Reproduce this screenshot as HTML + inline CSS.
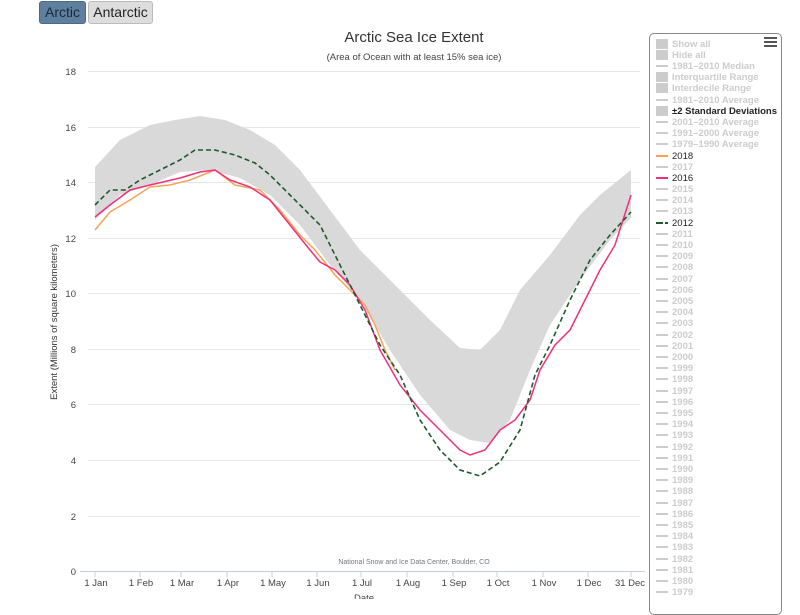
<!DOCTYPE html>
<html><head><meta charset="utf-8"><style>
body{margin:0;width:800px;height:599px;overflow:hidden;background:#fff;font-family:"Liberation Sans",sans-serif;position:relative}
.btn{position:absolute;top:1px;height:21px;border-radius:3px;font-size:14px;line-height:21px;text-align:center}
#leg{position:absolute;left:649px;top:33px;width:131px;height:580px;border:1px solid #888;border-radius:5px;background:#fff;font-size:9.5px;font-weight:bold;color:#ccc}
.li{position:absolute;left:6px;height:11px;line-height:11px;white-space:nowrap}
.sw{display:inline-block;width:12px;height:2px;background:#ccc;vertical-align:middle;margin-right:4px}
.sq{display:inline-block;width:12px;height:10px;background:#ccc;vertical-align:middle;margin-right:4px}
</style></head><body>
<div class="btn" style="left:39px;width:45px;background:#5f7f9f;color:#1a2a3a;border:1px solid #4a6a8a">Arctic</div>
<div class="btn" style="left:88px;width:63px;background:#ddd;color:#222;border:1px solid #bbb">Antarctic</div>
<svg width="800" height="599" style="position:absolute;left:0;top:0" font-family="Liberation Sans, sans-serif">
<text x="414" y="42" font-size="15" text-anchor="middle" fill="#333">Arctic Sea Ice Extent</text>
<text x="414" y="60" font-size="9.5" text-anchor="middle" fill="#444">(Area of Ocean with at least 15% sea ice)</text>
<g stroke="#e6e6e6" stroke-width="1">
<line x1="88" x2="640" y1="71.5" y2="71.5"/><line x1="88" x2="640" y1="127.5" y2="127.5"/><line x1="88" x2="640" y1="182.5" y2="182.5"/><line x1="88" x2="640" y1="238.5" y2="238.5"/><line x1="88" x2="640" y1="293.5" y2="293.5"/><line x1="88" x2="640" y1="349.5" y2="349.5"/><line x1="88" x2="640" y1="404.5" y2="404.5"/><line x1="88" x2="640" y1="460.5" y2="460.5"/><line x1="88" x2="640" y1="516.5" y2="516.5"/>
</g>
<g font-size="9.5" fill="#444" text-anchor="end">
<text x="76" y="75">18</text><text x="76" y="131">16</text><text x="76" y="186">14</text><text x="76" y="242">12</text><text x="76" y="297">10</text><text x="76" y="353">8</text><text x="76" y="408">6</text><text x="76" y="464">4</text><text x="76" y="520">2</text><text x="76" y="575">0</text>
</g>
<text transform="translate(57,322) rotate(-90)" font-size="9.5" fill="#333" text-anchor="middle">Extent (Millions of square kilometers)</text>
<path fill="#d9d9d9" d="M95,167 L120,140 L150,125 L175,120 L200,116 L225,120 L250,130 L275,145 L300,170 L330,210 L360,250 L400,290 L430,320 L460,348 L480,350 L500,330 L520,290 L550,255 L580,215 L600,195 L631,170 L631,218 L610,240 L580,280 L550,325 L530,370 L510,420 L490,443 L470,440 L450,430 L420,395 L390,350 L360,300 L330,265 L300,225 L270,195 L240,178 L210,170 L180,172 L150,185 L120,195 L95,220Z"/>
<path fill="none" stroke="#f4a45a" stroke-width="1.5" d="M95,230 L110,212 L130,200 L150,187 L170,185 L190,180 L215,170 L235,185 L260,190 L280,210 L300,235 L315,250 L335,275 L350,290 L365,305 L375,325 L385,350 L395,370"/>
<path fill="none" stroke="#f0307a" stroke-width="1.5" d="M95,217 L110,205 L130,190 L150,185 L180,178 L200,172 L215,170 L230,180 L250,187 L270,200 L290,225 L310,250 L320,262 L335,270 L350,285 L365,310 L380,350 L400,385 L420,410 L440,430 L460,450 L470,455 L485,450 L500,430 L515,420 L530,400 L540,370 L555,345 L570,330 L585,300 L600,270 L615,245 L631,195"/>
<path fill="none" stroke="#1d5a2e" stroke-width="1.6" stroke-dasharray="5,3" d="M95,205 L110,190 L125,190 L140,180 L160,170 L180,160 L195,150 L215,150 L235,155 L255,163 L270,175 L290,195 L305,210 L320,225 L335,255 L350,285 L365,315 L380,345 L400,375 L420,420 L440,450 L460,470 L480,476 L500,462 L520,430 L535,375 L550,345 L570,300 L590,260 L610,235 L631,212"/>
<line x1="80" x2="645" y1="571.5" y2="571.5" stroke="#c0d0e0"/>
<g stroke="#c0d0e0"><line x1="95" x2="95" y1="571" y2="577"/><line x1="140" x2="140" y1="571" y2="577"/><line x1="181" x2="181" y1="571" y2="577"/><line x1="227" x2="227" y1="571" y2="577"/><line x1="272" x2="272" y1="571" y2="577"/><line x1="317" x2="317" y1="571" y2="577"/><line x1="361" x2="361" y1="571" y2="577"/><line x1="407" x2="407" y1="571" y2="577"/><line x1="453" x2="453" y1="571" y2="577"/><line x1="497" x2="497" y1="571" y2="577"/><line x1="543" x2="543" y1="571" y2="577"/><line x1="588" x2="588" y1="571" y2="577"/><line x1="631" x2="631" y1="571" y2="577"/></g>
<g font-size="9.5" fill="#444" text-anchor="middle">
<text x="96" y="586">1 Jan</text><text x="141" y="586">1 Feb</text><text x="182" y="586">1 Mar</text><text x="228" y="586">1 Apr</text><text x="273" y="586">1 May</text><text x="318" y="586">1 Jun</text><text x="362" y="586">1 Jul</text><text x="408" y="586">1 Aug</text><text x="454" y="586">1 Sep</text><text x="498" y="586">1 Oct</text><text x="544" y="586">1 Nov</text><text x="589" y="586">1 Dec</text><text x="630" y="586">31 Dec</text>
<text x="364" y="601">Date</text>
</g>
<text x="414" y="564" font-size="7" fill="#777" text-anchor="middle">National Snow and Ice Data Center, Boulder, CO</text>
</svg>
<div id="leg">
<div style="position:absolute;right:4px;top:3px;width:13px"><div style="height:2px;background:#555;margin-bottom:2px"></div><div style="height:2px;background:#555;margin-bottom:2px"></div><div style="height:2px;background:#555"></div></div>
<div class="li" style="top:5px"><span class="sq"></span>Show all</div>
<div class="li" style="top:16px"><span class="sq"></span>Hide all</div>
<div class="li" style="top:27px"><span class="sw"></span>1981–2010 Median</div>
<div class="li" style="top:38px"><span class="sq"></span>Interquartile Range</div>
<div class="li" style="top:49px"><span class="sq"></span>Interdecile Range</div>
<div class="li" style="top:61px"><span class="sw"></span>1981–2010 Average</div>
<div class="li" style="top:72px;color:#222"><span class="sq"></span>±2 Standard Deviations</div>
<div class="li" style="top:83px"><span class="sw"></span>2001–2010 Average</div>
<div class="li" style="top:94px"><span class="sw"></span>1991–2000 Average</div>
<div class="li" style="top:105px"><span class="sw"></span>1979–1990 Average</div>
<div class="li" style="top:117px;color:#222;font-weight:normal"><span class="sw" style="background:#f4a45a"></span>2018</div>
<div class="li" style="top:128px"><span class="sw"></span>2017</div>
<div class="li" style="top:139px;color:#222;font-weight:normal"><span class="sw" style="background:#f0307a"></span>2016</div>
<div class="li" style="top:150px"><span class="sw"></span>2015</div>
<div class="li" style="top:161px"><span class="sw"></span>2014</div>
<div class="li" style="top:172px"><span class="sw"></span>2013</div>
<div class="li" style="top:184px;color:#222;font-weight:normal"><span class="sw" style="background:linear-gradient(90deg,#1d5a2e 60%,#fff 60%,#fff 75%,#1d5a2e 75%)"></span>2012</div>
<div class="li" style="top:195px"><span class="sw"></span>2011</div>
<div class="li" style="top:206px"><span class="sw"></span>2010</div>
<div class="li" style="top:217px"><span class="sw"></span>2009</div>
<div class="li" style="top:228px"><span class="sw"></span>2008</div>
<div class="li" style="top:240px"><span class="sw"></span>2007</div>
<div class="li" style="top:251px"><span class="sw"></span>2006</div>
<div class="li" style="top:262px"><span class="sw"></span>2005</div>
<div class="li" style="top:273px"><span class="sw"></span>2004</div>
<div class="li" style="top:284px"><span class="sw"></span>2003</div>
<div class="li" style="top:296px"><span class="sw"></span>2002</div>
<div class="li" style="top:307px"><span class="sw"></span>2001</div>
<div class="li" style="top:318px"><span class="sw"></span>2000</div>
<div class="li" style="top:329px"><span class="sw"></span>1999</div>
<div class="li" style="top:340px"><span class="sw"></span>1998</div>
<div class="li" style="top:352px"><span class="sw"></span>1997</div>
<div class="li" style="top:363px"><span class="sw"></span>1996</div>
<div class="li" style="top:374px"><span class="sw"></span>1995</div>
<div class="li" style="top:385px"><span class="sw"></span>1994</div>
<div class="li" style="top:396px"><span class="sw"></span>1993</div>
<div class="li" style="top:408px"><span class="sw"></span>1992</div>
<div class="li" style="top:419px"><span class="sw"></span>1991</div>
<div class="li" style="top:430px"><span class="sw"></span>1990</div>
<div class="li" style="top:441px"><span class="sw"></span>1989</div>
<div class="li" style="top:452px"><span class="sw"></span>1988</div>
<div class="li" style="top:464px"><span class="sw"></span>1987</div>
<div class="li" style="top:475px"><span class="sw"></span>1986</div>
<div class="li" style="top:486px"><span class="sw"></span>1985</div>
<div class="li" style="top:497px"><span class="sw"></span>1984</div>
<div class="li" style="top:508px"><span class="sw"></span>1983</div>
<div class="li" style="top:520px"><span class="sw"></span>1982</div>
<div class="li" style="top:531px"><span class="sw"></span>1981</div>
<div class="li" style="top:542px"><span class="sw"></span>1980</div>
<div class="li" style="top:553px"><span class="sw"></span>1979</div>
</div>
</body></html>
